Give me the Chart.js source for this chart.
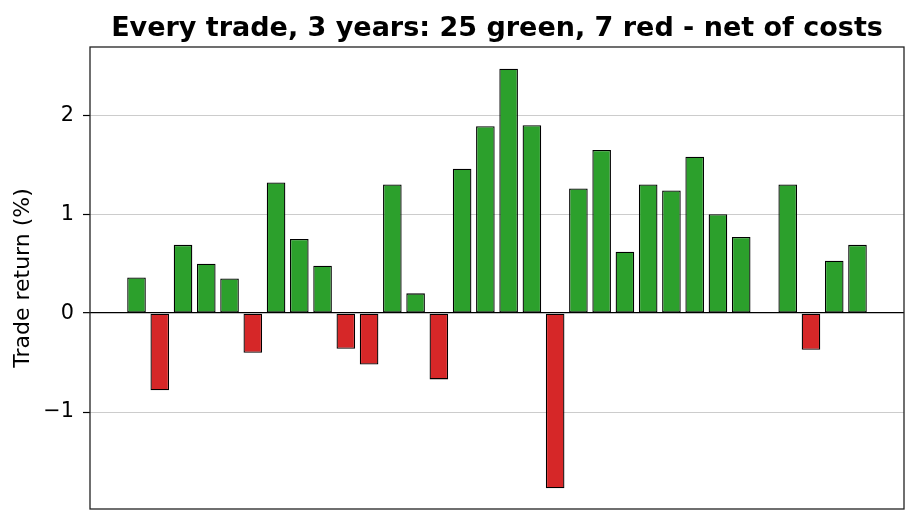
<!DOCTYPE html>
<html>
<head>
<meta charset="utf-8">
<script src="https://cdn.jsdelivr.net/npm/chart.js@4.4.1/dist/chart.umd.min.js"></script>
<style>
  html, body { margin: 0; padding: 0; background: #fff; }
</style>
</head>
<body>
<canvas id="trades" width="918" height="524"></canvas>
<script>
// one value per closed trade, in order, % return after costs
var chartTitle = 'Every trade, 3 years: 25 green, 7 red - net of costs';
var yLabel = 'Trade return (%)';
var tradeReturns = [0.36, -0.78, 0.69, 0.50, 0.35, -0.40, 1.32, 0.75, 0.48, -0.36,
                    -0.52, 1.30, 0.20, -0.67, 1.46, 1.89, 2.47, 1.90, -1.77, 1.26,
                    1.65, 0.62, 1.30, 1.24, 1.58, 1.00, 0.77, 0.01, 1.30, -0.37,
                    0.53, 0.69];
var yTicks = [-1, 0, 1, 2];

var green = '#2ca02c';
var red = '#d62728';

var points = tradeReturns.map(function (v, i) { return { x: i, y: v }; });
var barColors = tradeReturns.map(function (v) { return v >= 0 ? green : red; });

// frame round the plot area + title centred over it
var frameAndTitle = {
    id: 'frameAndTitle',
    afterDraw: function (chart) {
        var a = chart.chartArea;
        var c = chart.ctx;
        c.save();
        c.strokeStyle = '#222222';
        c.lineWidth = 1.3;
        c.strokeRect(a.left, a.top, a.right - a.left, a.bottom - a.top);
        c.fillStyle = '#000000';
        c.font = 'bold 27px "DejaVu Sans"';
        c.textAlign = 'center';
        c.textBaseline = 'alphabetic';
        c.fillText(chartTitle, (a.left + a.right) / 2, 36);
        c.restore();
    }
};

var ctx = document.getElementById('trades').getContext('2d');

var chart = new Chart(ctx, {
    type: 'bar',
    data: {
        datasets: [{
            label: 'Trade return',
            data: points,
            backgroundColor: barColors,
            borderColor: '#000000',
            borderWidth: 1.3,
            borderSkipped: false,
            categoryPercentage: 1.0,
            barPercentage: 0.8
        }]
    },
    options: {
        responsive: false,
        animation: false,
        layout: {
            padding: { left: 0, right: 14, top: 47, bottom: 15 }
        },
        plugins: {
            legend: { display: false },
            tooltip: { enabled: false },
            title: { display: false }
        },
        scales: {
            x: {
                type: 'linear',
                display: false,
                offset: false,
                min: -2,
                max: 33
            },
            y: {
                min: -1.98,
                max: 2.69,
                z: 1,
                afterFit: function (scale) {
                    scale.width = 90;
                    scale.paddingTop = 0;
                    scale.paddingBottom = 0;
                },
                afterBuildTicks: function (scale) {
                    scale.ticks = yTicks.map(function (v) { return { value: v }; });
                },
                border: { display: false },
                grid: {
                    color: function (c) { return c.tick && c.tick.value === 0 ? '#000000' : '#cccccc'; },
                    lineWidth: function (c) { return c.tick && c.tick.value === 0 ? 1.3 : 1; },
                    tickColor: '#000000',
                    tickLength: 7,
                    tickWidth: 1.2
                },
                ticks: {
                    padding: 9,
                    color: '#000000',
                    font: { family: 'DejaVu Sans', size: 20.8 },
                    callback: function (v) { return v < 0 ? '\u2212' + Math.abs(v) : String(v); }
                },
                title: {
                    display: true,
                    text: yLabel,
                    color: '#000000',
                    font: { family: 'DejaVu Sans', size: 22 },
                    padding: { top: 10, bottom: 0 }
                }
            }
        }
    },
    plugins: [frameAndTitle]
});
</script>
</body>
</html>
